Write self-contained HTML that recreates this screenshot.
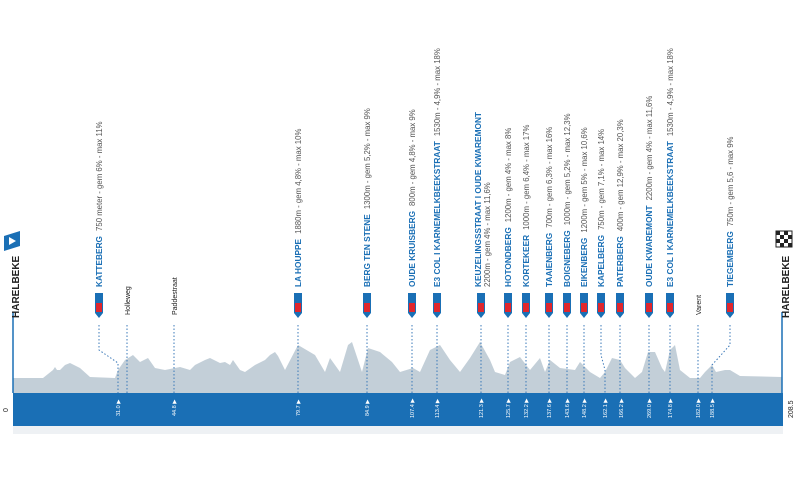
<!DOCTYPE html>
<html><head><meta charset="utf-8"><style>
html,body{margin:0;padding:0;background:#fff;}
svg{display:block;font-family:"Liberation Sans",sans-serif;}
.n{fill:#1a6fb5;font-weight:bold;font-size:8.3px;}
.d{fill:#555;font-size:7.8px;}
.k{fill:#fff;font-size:5.5px;}
.p{fill:#222;font-size:7px;}
</style></head><body>
<svg width="800" height="484" viewBox="0 0 800 484">
<rect x="13" y="426" width="770" height="8" fill="#eef1f4"/>
<path fill="#c3cfd8" d="M13,378 L43,378 L53,370 L55,367 L57,370 L60,370 L65,365 L70,363 L80,368 L90,377 L115,378 L118,370 L125,360 L133,355 L140,362 L148,358 L155,368 L165,370 L175,368 L180,367 L190,370 L195,365 L205,360 L210,358 L220,363 L225,362 L230,365 L233,360 L240,370 L245,372 L255,365 L265,360 L270,355 L275,352 L278,356 L285,370 L298,345 L315,355 L325,372 L330,358 L340,372 L348,345 L352,342 L358,360 L362,372 L368,348 L380,352 L392,362 L400,372 L413,368 L420,372 L430,350 L440,345 L450,360 L460,372 L470,358 L480,342 L490,360 L495,372 L505,375 L510,362 L520,357 L530,370 L540,358 L545,372 L550,360 L560,368 L575,370 L580,362 L590,372 L600,378 L605,372 L612,358 L620,360 L625,368 L635,378 L642,372 L648,352 L655,352 L662,368 L665,372 L670,350 L675,345 L680,370 L690,378 L700,378 L705,372 L712,365 L716,372 L725,370 L730,370 L740,376 L782,377 L782,393 L13,393 Z"/>
<rect x="13" y="393" width="770" height="33" fill="#1a6fb5"/>
<line x1="13" y1="312" x2="13" y2="393" stroke="#1a6fb5" stroke-width="1.5"/>
<line x1="782" y1="312" x2="782" y2="393" stroke="#1a6fb5" stroke-width="1.5"/>
<g stroke="#3a78b8" stroke-width="1" stroke-dasharray="1.5,2" fill="none">
<path d="M99,325 V350 L118,363 V393"/><path d="M127,325 V393"/><path d="M174,325 V393"/>
<path d="M298,325 V393"/><path d="M367,325 V393"/><path d="M412,325 V393"/><path d="M437,325 V393"/>
<path d="M481,325 V393"/><path d="M508,325 V393"/><path d="M526,325 V393"/><path d="M549,325 V393"/>
<path d="M567,325 V393"/><path d="M584,325 V393"/><path d="M601,325 V355 L605,370 V393"/><path d="M620,325 V393"/>
<path d="M649,325 V393"/><path d="M670,325 V393"/><path d="M698,325 V393"/><path d="M730,325 V345 L712,365 V393"/>
</g>
<g id="badges">
<g transform="translate(99,0)"><path d="M-4,293 h8 v20 l-4,5 l-4,-5z" fill="#1a6fb5"/><rect x="-3" y="303" width="6" height="9" fill="#e0262c"/></g>
<g transform="translate(298,0)"><path d="M-4,293 h8 v20 l-4,5 l-4,-5z" fill="#1a6fb5"/><rect x="-3" y="303" width="6" height="9" fill="#e0262c"/></g>
<g transform="translate(367,0)"><path d="M-4,293 h8 v20 l-4,5 l-4,-5z" fill="#1a6fb5"/><rect x="-3" y="303" width="6" height="9" fill="#e0262c"/></g>
<g transform="translate(412,0)"><path d="M-4,293 h8 v20 l-4,5 l-4,-5z" fill="#1a6fb5"/><rect x="-3" y="303" width="6" height="9" fill="#e0262c"/></g>
<g transform="translate(437,0)"><path d="M-4,293 h8 v20 l-4,5 l-4,-5z" fill="#1a6fb5"/><rect x="-3" y="303" width="6" height="9" fill="#e0262c"/></g>
<g transform="translate(481,0)"><path d="M-4,293 h8 v20 l-4,5 l-4,-5z" fill="#1a6fb5"/><rect x="-3" y="303" width="6" height="9" fill="#e0262c"/></g>
<g transform="translate(508,0)"><path d="M-4,293 h8 v20 l-4,5 l-4,-5z" fill="#1a6fb5"/><rect x="-3" y="303" width="6" height="9" fill="#e0262c"/></g>
<g transform="translate(526,0)"><path d="M-4,293 h8 v20 l-4,5 l-4,-5z" fill="#1a6fb5"/><rect x="-3" y="303" width="6" height="9" fill="#e0262c"/></g>
<g transform="translate(549,0)"><path d="M-4,293 h8 v20 l-4,5 l-4,-5z" fill="#1a6fb5"/><rect x="-3" y="303" width="6" height="9" fill="#e0262c"/></g>
<g transform="translate(567,0)"><path d="M-4,293 h8 v20 l-4,5 l-4,-5z" fill="#1a6fb5"/><rect x="-3" y="303" width="6" height="9" fill="#e0262c"/></g>
<g transform="translate(584,0)"><path d="M-4,293 h8 v20 l-4,5 l-4,-5z" fill="#1a6fb5"/><rect x="-3" y="303" width="6" height="9" fill="#e0262c"/></g>
<g transform="translate(601,0)"><path d="M-4,293 h8 v20 l-4,5 l-4,-5z" fill="#1a6fb5"/><rect x="-3" y="303" width="6" height="9" fill="#e0262c"/></g>
<g transform="translate(620,0)"><path d="M-4,293 h8 v20 l-4,5 l-4,-5z" fill="#1a6fb5"/><rect x="-3" y="303" width="6" height="9" fill="#e0262c"/></g>
<g transform="translate(649,0)"><path d="M-4,293 h8 v20 l-4,5 l-4,-5z" fill="#1a6fb5"/><rect x="-3" y="303" width="6" height="9" fill="#e0262c"/></g>
<g transform="translate(670,0)"><path d="M-4,293 h8 v20 l-4,5 l-4,-5z" fill="#1a6fb5"/><rect x="-3" y="303" width="6" height="9" fill="#e0262c"/></g>
<g transform="translate(730,0)"><path d="M-4,293 h8 v20 l-4,5 l-4,-5z" fill="#1a6fb5"/><rect x="-3" y="303" width="6" height="9" fill="#e0262c"/></g>
</g>
<g>
<text transform="translate(102,287) rotate(-90)"><tspan class="n">KATTEBERG</tspan><tspan class="d" dx="5">750 meter  -  gem 6% - max 11%</tspan></text>
<text class="p" transform="translate(130,315) rotate(-90)">Holleweg</text>
<text class="p" transform="translate(177,315) rotate(-90)">Paddestraat</text>
<text transform="translate(301,287) rotate(-90)"><tspan class="n">LA HOUPPE</tspan><tspan class="d" dx="5">1880m  -  gem 4,8% - max 10%</tspan></text>
<text transform="translate(370,287) rotate(-90)"><tspan class="n">BERG TEN STENE</tspan><tspan class="d" dx="5">1300m  -  gem 5,2% - max 9%</tspan></text>
<text transform="translate(415,287) rotate(-90)"><tspan class="n">OUDE KRUISBERG</tspan><tspan class="d" dx="5">800m  -  gem 4,8% - max 9%</tspan></text>
<text transform="translate(440,287) rotate(-90)"><tspan class="n">E3 COL I KARNEMELKBEEKSTRAAT</tspan><tspan class="d" dx="5">1530m  -  4,9% - max 18%</tspan></text>
<text transform="translate(481,287) rotate(-90)"><tspan class="n">KEUZELINGSSTRAAT I OUDE KWAREMONT</tspan></text>
<text class="d" transform="translate(490,287) rotate(-90)">2200m  -  gem 4% - max 11,6%</text>
<text transform="translate(511,287) rotate(-90)"><tspan class="n">HOTONDBERG</tspan><tspan class="d" dx="5">1200m  -  gem 4% - max 8%</tspan></text>
<text transform="translate(529,287) rotate(-90)"><tspan class="n">KORTEKEER</tspan><tspan class="d" dx="5">1000m  -  gem 6,4% - max 17%</tspan></text>
<text transform="translate(552,287) rotate(-90)"><tspan class="n">TAAIENBERG</tspan><tspan class="d" dx="5">700m  -  gem 6,3% - max 16%</tspan></text>
<text transform="translate(570,287) rotate(-90)"><tspan class="n">BOIGNEBERG</tspan><tspan class="d" dx="5">1000m  -  gem 5,2% - max 12,3%</tspan></text>
<text transform="translate(587,287) rotate(-90)"><tspan class="n">EIKENBERG</tspan><tspan class="d" dx="5">1200m  -  gem 5% - max 10,6%</tspan></text>
<text transform="translate(604,287) rotate(-90)"><tspan class="n">KAPELBERG</tspan><tspan class="d" dx="5">750m  -  gem 7,1% - max 14%</tspan></text>
<text transform="translate(623,287) rotate(-90)"><tspan class="n">PATERBERG</tspan><tspan class="d" dx="5">400m  -  gem 12,9% - max 20,3%</tspan></text>
<text transform="translate(652,287) rotate(-90)"><tspan class="n">OUDE KWAREMONT</tspan><tspan class="d" dx="5">2200m  -  gem 4% - max 11,6%</tspan></text>
<text transform="translate(673,287) rotate(-90)"><tspan class="n">E3 COL I KARNEMELKBEEKSTRAAT</tspan><tspan class="d" dx="5">1530m  -  4,9% - max 18%</tspan></text>
<text class="p" transform="translate(701,315) rotate(-90)">Varent</text>
<text transform="translate(733,287) rotate(-90)"><tspan class="n">TIEGEMBERG</tspan><tspan class="d" dx="5">750m  -  gem 5,6  -  max 9%</tspan></text>
</g>
<text transform="translate(19,318) rotate(-90)" font-size="10" font-weight="bold" fill="#222">HARELBEKE</text>
<text transform="translate(789,318) rotate(-90)" font-size="10" font-weight="bold" fill="#222">HARELBEKE</text>
<path d="M4,236 L20,231 V246 L4,251 Z" fill="#1a6fb5"/><path d="M9,237 L16,241 L9,245Z" fill="#fff"/>
<g transform="translate(776,231)"><rect width="16" height="16" fill="#fff" stroke="#222"/>
<path fill="#222" d="M0,0h4v4h-4zM8,0h4v4h-4zM4,4h4v4h-4zM12,4h4v4h-4zM0,8h4v4h-4zM8,8h4v4h-4zM4,12h4v4h-4zM12,12h4v4h-4z"/></g>
<text class="p" transform="translate(8,412) rotate(-90)">0</text>
<text class="p" transform="translate(793,418) rotate(-90)">208.5</text>
<g class="k">
<text transform="translate(120,416) rotate(-90)">31.0 ▶</text>
<text transform="translate(176,416) rotate(-90)">44.8 ▶</text>
<text transform="translate(300,416) rotate(-90)">79.7 ▶</text>
<text transform="translate(369,416) rotate(-90)">84.9 ▶</text>
<text transform="translate(414,418) rotate(-90)">107.4 ▶</text>
<text transform="translate(439,418) rotate(-90)">113.4 ▶</text>
<text transform="translate(483,418) rotate(-90)">121.3 ▶</text>
<text transform="translate(510,418) rotate(-90)">125.7 ▶</text>
<text transform="translate(528,418) rotate(-90)">132.2 ▶</text>
<text transform="translate(551,418) rotate(-90)">137.6 ▶</text>
<text transform="translate(569,418) rotate(-90)">143.6 ▶</text>
<text transform="translate(586,418) rotate(-90)">148.2 ▶</text>
<text transform="translate(607,418) rotate(-90)">162.1 ▶</text>
<text transform="translate(623,418) rotate(-90)">166.2 ▶</text>
<text transform="translate(651,418) rotate(-90)">269.0 ▶</text>
<text transform="translate(672,418) rotate(-90)">174.8 ▶</text>
<text transform="translate(700,418) rotate(-90)">182.0 ▶</text>
<text transform="translate(714,418) rotate(-90)">188.5 ▶</text>
</g>
</svg>
</body></html>
